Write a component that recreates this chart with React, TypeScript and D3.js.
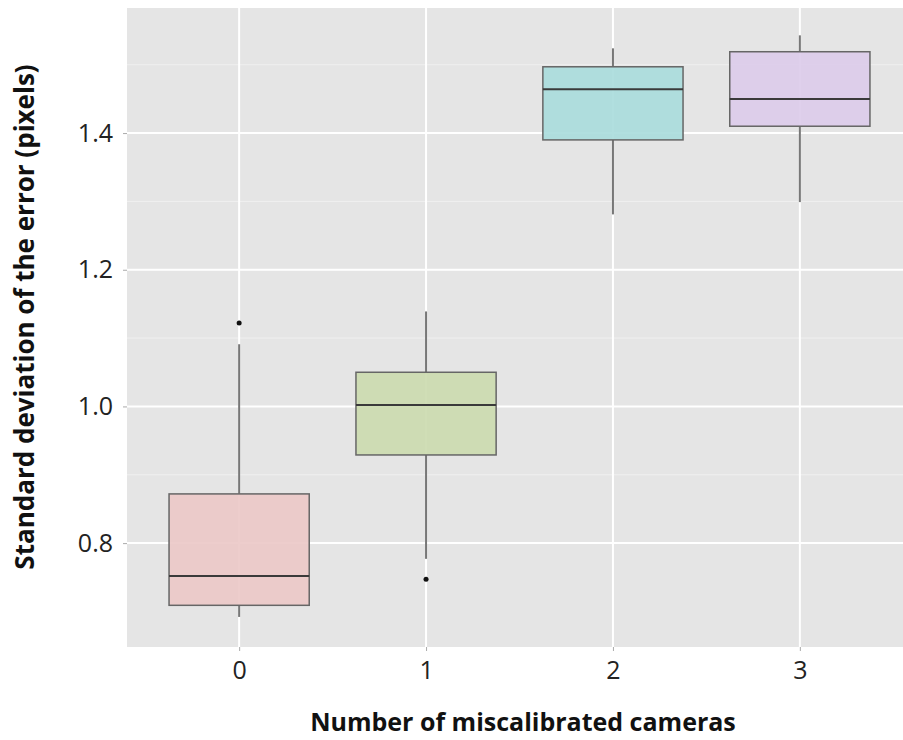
import React, { useEffect, useRef } from "react";
import * as d3 from "d3";

const categories = ["0", "1", "2", "3"];
const lowerWhisker = [0.692, 0.777, 1.281, 1.299];
const q1 = [0.709, 0.929, 1.39, 1.41];
const median = [0.752, 1.002, 1.464, 1.45];
const q3 = [0.872, 1.05, 1.497, 1.519];
const upperWhisker = [1.091, 1.139, 1.524, 1.543];
const outliers = [[1.122], [0.747], [], []];
const fills = ["#ebc8c6", "#cbdaae", "#a9dbdb", "#dccbea"];
const yTicks = [0.8, 1.0, 1.2, 1.4];
const yMinor = [0.9, 1.1, 1.3, 1.5];

const W = 903;
const H = 740;
const panel = { left: 127, top: 8, right: 912, bottom: 647 };

const App = () => {
  const svgRef = useRef<SVGSVGElement>(null);

  useEffect(() => {
    document.body.style.margin = "0";
    const svg = d3.select(svgRef.current);
    svg.selectAll("*").remove();

    const x = d3
      .scalePoint()
      .domain(categories)
      .range([panel.left, panel.right])
      .padding(0.6);
    const y = d3.scaleLinear().domain([0.648, 1.583]).range([panel.bottom, panel.top]);
    const step = x.step();
    const boxW = step * 0.75;

    svg
      .append("rect")
      .attr("x", panel.left)
      .attr("y", panel.top)
      .attr("width", panel.right - panel.left)
      .attr("height", panel.bottom - panel.top)
      .attr("fill", "#e5e5e5");

    // grid
    svg
      .append("g")
      .selectAll("line")
      .data(yMinor)
      .join("line")
      .attr("x1", panel.left)
      .attr("x2", panel.right)
      .attr("y1", (d) => y(d))
      .attr("y2", (d) => y(d))
      .attr("stroke", "#f0f0f0")
      .attr("stroke-width", 1);
    svg
      .append("g")
      .selectAll("line")
      .data(yTicks)
      .join("line")
      .attr("x1", panel.left)
      .attr("x2", panel.right)
      .attr("y1", (d) => y(d))
      .attr("y2", (d) => y(d))
      .attr("stroke", "#ffffff")
      .attr("stroke-width", 2);
    svg
      .append("g")
      .selectAll("line")
      .data(categories)
      .join("line")
      .attr("x1", (d) => x(d)!)
      .attr("x2", (d) => x(d)!)
      .attr("y1", panel.top)
      .attr("y2", panel.bottom)
      .attr("stroke", "#ffffff")
      .attr("stroke-width", 2);

    // boxes
    const g = svg
      .append("g")
      .selectAll("g")
      .data(categories)
      .join("g");
    g.append("line")
      .attr("x1", (d) => x(d)!)
      .attr("x2", (d) => x(d)!)
      .attr("y1", (d, i) => y(upperWhisker[i]))
      .attr("y2", (d, i) => y(q3[i]))
      .attr("stroke", "#777")
      .attr("stroke-width", 2);
    g.append("line")
      .attr("x1", (d) => x(d)!)
      .attr("x2", (d) => x(d)!)
      .attr("y1", (d, i) => y(q1[i]))
      .attr("y2", (d, i) => y(lowerWhisker[i]))
      .attr("stroke", "#777")
      .attr("stroke-width", 2);
    g.append("rect")
      .attr("x", (d) => x(d)! - boxW / 2)
      .attr("y", (d, i) => y(q3[i]))
      .attr("width", boxW)
      .attr("height", (d, i) => y(q1[i]) - y(q3[i]))
      .attr("fill", (d, i) => fills[i])
      .attr("fill-opacity", 0.9)
      .attr("stroke", "#666")
      .attr("stroke-width", 1.5);
    g.append("line")
      .attr("x1", (d) => x(d)! - boxW / 2)
      .attr("x2", (d) => x(d)! + boxW / 2)
      .attr("y1", (d, i) => y(median[i]))
      .attr("y2", (d, i) => y(median[i]))
      .attr("stroke", "#3a3a3a")
      .attr("stroke-width", 2);
    g.selectAll("circle")
      .data((d, i) => outliers[i].map((v) => ({ c: d, v })))
      .join("circle")
      .attr("cx", (d) => x(d.c)!)
      .attr("cy", (d) => y(d.v))
      .attr("r", 2.5)
      .attr("fill", "#111");

    // axes
    const yAxis = svg
      .append("g")
      .attr("transform", `translate(${panel.left},0)`)
      .call(d3.axisLeft(y).tickValues(yTicks).tickFormat(d3.format(".1f")).tickSize(4).tickPadding(10));
    yAxis.select(".domain").remove();
    yAxis.selectAll("line").attr("stroke", "#aaa");
    yAxis
      .selectAll("text")
      .attr("fill", "#222")
      .attr("font-size", 25)
      .attr("font-family", "Open Sans, sans-serif");

    const xAxis = svg
      .append("g")
      .attr("transform", `translate(0,${panel.bottom})`)
      .call(d3.axisBottom(x).tickSize(4).tickPadding(10));
    xAxis.select(".domain").remove();
    xAxis.selectAll("line").attr("stroke", "#aaa");
    xAxis
      .selectAll("text")
      .attr("fill", "#222")
      .attr("font-size", 25)
      .attr("font-family", "Open Sans, sans-serif");

    svg
      .append("text")
      .attr("x", 523)
      .attr("y", 731)
      .attr("text-anchor", "middle")
      .attr("font-size", 25)
      .attr("font-weight", "bold")
      .attr("font-family", "Open Sans, sans-serif")
      .attr("fill", "#111")
      .text("Number of miscalibrated cameras");

    svg
      .append("text")
      .attr("transform", "translate(34,317) rotate(-90)")
      .attr("text-anchor", "middle")
      .attr("font-size", 26)
      .attr("font-weight", "bold")
      .attr("font-family", "Open Sans, sans-serif")
      .attr("fill", "#111")
      .text("Standard deviation of the error (pixels)");
  }, []);

  return (
    <div style={{ position: "absolute", left: 0, top: 0 }}>
      <svg ref={svgRef} width={W} height={H} style={{ display: "block" }} />
    </div>
  );
};

export default App;
